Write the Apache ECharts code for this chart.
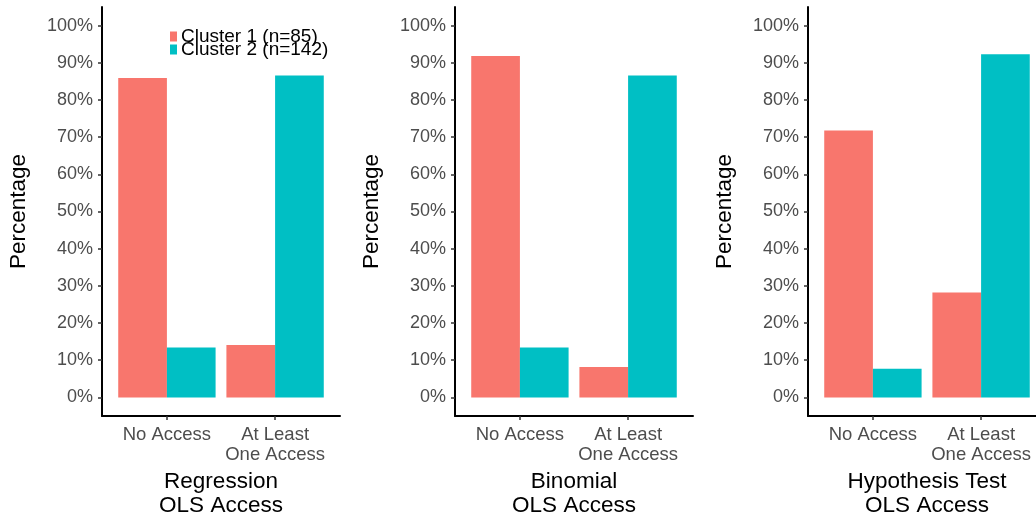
<!DOCTYPE html>
<html>
<head>
<meta charset="utf-8">
<style>
  html, body { margin: 0; padding: 0; background: #ffffff; }
  #chart { width: 1036px; height: 521px; }
</style>
<script src="https://cdn.jsdelivr.net/npm/echarts@6/dist/echarts.min.js"></script>
</head>
<body>
<div id="chart"></div>
<script>
// Share of each cluster (percent) by OLS access category, one panel per task
const categories = ['No Access', 'At Least\nOne Access'];
const panelTitles = ['Regression\nOLS Access', 'Binomial\nOLS Access', 'Hypothesis Test\nOLS Access'];
const clusterNames = ['Cluster 1 (n=85)', 'Cluster 2 (n=142)'];

const regressionCluster1 = [85.9, 14.1];
const regressionCluster2 = [13.4, 86.6];
const binomialCluster1 = [91.8, 8.2];
const binomialCluster2 = [13.4, 86.6];
const hypothesisCluster1 = [71.8, 28.2];
const hypothesisCluster2 = [7.7, 92.3];

const yTicks = [0, 10, 20, 30, 40, 50, 60, 70, 80, 90, 100];
const xTicks = [1, 2];

const panels = [
  [regressionCluster1, regressionCluster2],
  [binomialCluster1, binomialCluster2],
  [hypothesisCluster1, hypothesisCluster2]
];
const colors = ['#F8766D', '#00BFC4'];
const font = 'Liberation Sans, Arial, sans-serif';

const grids = [], xAxes = [], yAxes = [], series = [];
const panelLeft = [102, 455, 808];

panels.forEach((pair, p) => {
  grids.push({
    left: panelLeft[p], top: 7, width: 238, height: 409,
    containLabel: false, outerBoundsMode: 'none'
  });
  xAxes.push({
    type: 'value', gridIndex: p, min: 0.4, max: 2.6,
    name: panelTitles[p], nameLocation: 'middle', nameGap: 52,
    nameTextStyle: { color: '#000', fontSize: 22.5, fontFamily: font, lineHeight: 24 },
    axisLine: { show: true, onZero: false, lineStyle: { color: '#000', width: 2 } },
    axisTick: { show: true, customValues: xTicks, length: 4, lineStyle: { color: '#333', width: 1.5 } },
    axisLabel: {
      customValues: xTicks, margin: 9, color: '#4d4d4d', fontSize: 18.5, fontFamily: font, lineHeight: 20,
      formatter: v => categories[Math.round(v) - 1] || ''
    },
    splitLine: { show: false }
  });
  yAxes.push({
    type: 'value', gridIndex: p, min: -5, max: 105,
    name: 'Percentage', nameLocation: 'middle', nameGap: 72,
    nameTextStyle: { color: '#000', fontSize: 22.5, fontFamily: font },
    axisLine: { show: true, onZero: false, lineStyle: { color: '#000', width: 2 } },
    axisTick: { show: true, customValues: yTicks, length: 4, lineStyle: { color: '#333', width: 1.5 } },
    axisLabel: {
      customValues: yTicks, margin: 9, color: '#4d4d4d', fontSize: 18, fontFamily: font,
      formatter: v => v + '%'
    },
    splitLine: { show: false }
  });
  pair.forEach((vals, c) => {
    series.push({
      type: 'bar', name: clusterNames[c], xAxisIndex: p, yAxisIndex: p,
      data: vals.map((v, i) => [xTicks[i], v]),
      barWidth: '45%', barGap: '0%',
      itemStyle: { color: colors[c] },
      emphasis: { disabled: true }
    });
  });
});

const legendBase = {
  orient: 'vertical', left: 170, padding: 0, icon: 'rect', itemWidth: 7, itemHeight: 10, itemGap: 0,
  textStyle: { color: '#000', fontSize: 19, fontFamily: font, padding: [0, 0, 0, -1] },
  selectedMode: false
};

const chart = echarts.init(document.getElementById('chart'), null, { renderer: 'canvas' });
chart.setOption({
  backgroundColor: '#ffffff',
  animation: false,
  color: colors,
  legend: [
    Object.assign({}, legendBase, { top: 27, data: [clusterNames[0]] }),
    Object.assign({}, legendBase, { top: 40, data: [clusterNames[1]] })
  ],
  grid: grids,
  xAxis: xAxes,
  yAxis: yAxes,
  series: series
});
</script>
</body>
</html>
